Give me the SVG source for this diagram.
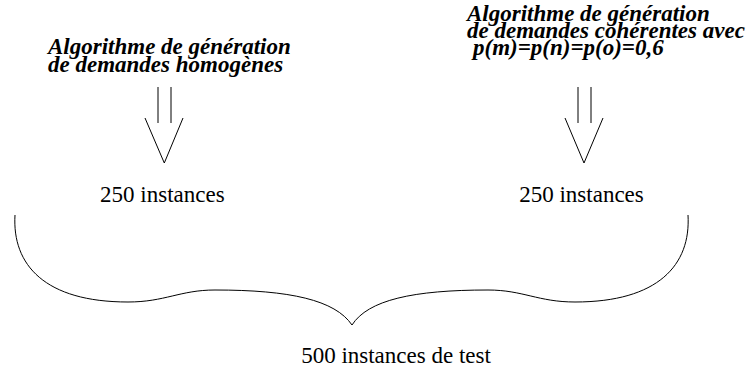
<svg xmlns="http://www.w3.org/2000/svg" width="749" height="371" viewBox="0 0 749 371">
<style>
text{font-family:'Liberation Serif','Times New Roman',Times,serif;font-size:23px;fill:#000}
.h{font-weight:bold;font-style:italic}
.ln{stroke:#000;stroke-width:1;fill:none}
</style>
<rect width="749" height="371" fill="#fff"/>
<g id="algo-homogene">
<text class="h" x="48" y="54">Algorithme de génération</text>
<text class="h" x="48" y="71.5">de demandes homogènes</text>
</g>
<g id="algo-coherent">
<text class="h" x="467" y="21">Algorithme de génération</text>
<text class="h" x="467" y="38">de demandes cohérentes avec</text>
<text class="h" x="473" y="55">p(m)=p(n)=p(o)=0,6</text>
</g>
<g id="instances-left">
<text x="162.4" y="202" text-anchor="middle">250 instances</text>
</g>
<g id="instances-right">
<text x="581.5" y="202" text-anchor="middle">250 instances</text>
</g>
<g id="total">
<text x="396" y="363" text-anchor="middle">500 instances de test</text>
</g>
<g id="connectors">
<path class="ln" d="M158,87V123M171,87V123"/>
<path class="ln" d="M145,118L164.3,163L183,118"/>
<path class="ln" d="M578,87V123M591,87V123"/>
<path class="ln" d="M565,118L584,163L603,118"/>
<path class="ln" stroke-width="1.2" d="M15,215 C12,265 45,302 128,302 C165,302 180,290 215,290 C290,290 335,300 352,325 C368,300 413,290 488,290 C523,290 538,302 575,302 C658,302 691,265 688,215"/>
</g>
</svg>
